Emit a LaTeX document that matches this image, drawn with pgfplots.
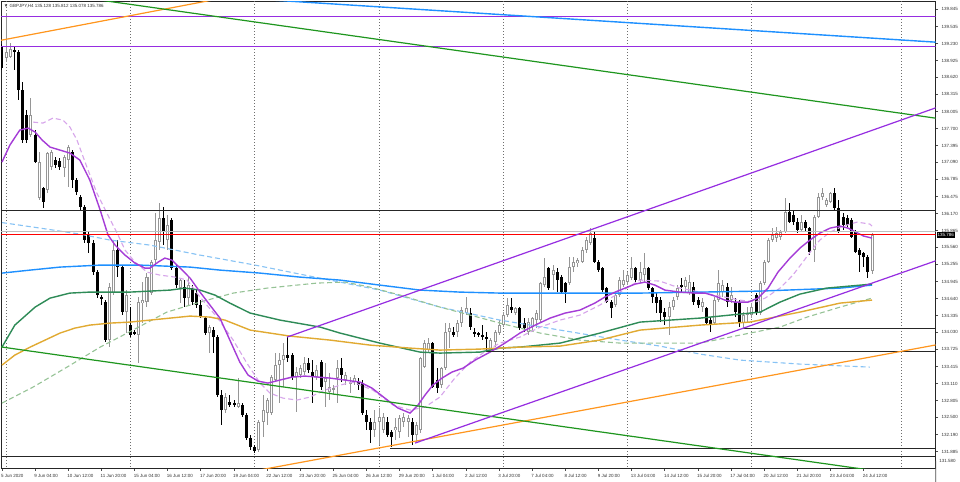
\documentclass[border=0pt]{standalone}
\usepackage{pgfplots}
\pgfplotsset{compat=1.18}
\usepackage{pgfplotstable}
\usepackage{fontspec}
\setmainfont{Liberation Sans}
\definecolor{tlpurple}{RGB}{150,45,225}
\definecolor{mapurple}{RGB}{165,60,215}
\definecolor{mapurplelight}{RGB}{215,165,235}
\definecolor{mablue}{RGB}{30,144,255}
\definecolor{mabluelight}{RGB}{135,195,245}
\definecolor{magreen}{RGB}{46,139,87}
\definecolor{magreenlight}{RGB}{150,195,150}
\definecolor{maorange}{RGB}{225,170,50}
\definecolor{tlorange}{RGB}{255,150,30}
\definecolor{tlgreen}{RGB}{30,150,30}
\definecolor{bullgray}{RGB}{150,150,150}
\definecolor{sepgray}{RGB}{110,110,110}

\pgfplotstableread{
i o h l c
1 138.968 139.778 138.896 139.076
2 138.986 139.238 138.968 139.130
7 137.582 138.248 137.546 137.942
9 136.448 137.276 136.412 137.096
11 136.592 137.276 136.538 137.258
12 137.006 137.312 136.952 137.276
15 136.988 137.222 136.826 137.186
16 137.132 137.402 136.646 137.366
26 133.892 134.918 133.766 134.846
27 134.738 135.692 134.702 135.512
30 134.396 134.792 134.018 134.702
33 133.982 134.666 133.478 134.576
34 134.558 134.936 134.198 134.612
35 134.576 135.098 134.486 135.026
36 134.738 135.332 134.702 135.296
37 135.332 136.178 135.242 135.692
38 135.656 136.358 135.512 136.088
40 135.692 136.142 135.512 135.962
43 134.828 135.008 134.558 134.972
45 134.648 135.026 134.522 134.882
50 134.018 134.162 133.658 134.126
54 132.632 132.938 132.578 132.866
57 132.686 133.208 132.668 132.758
62 131.912 132.452 131.876 132.416
63 132.416 132.902 132.146 132.632
64 132.578 132.848 132.362 132.812
65 132.578 133.262 132.542 133.226
66 133.172 133.658 133.136 133.442
67 133.442 133.658 132.758 133.532
68 133.532 133.838 133.046 133.622
71 133.226 133.406 132.596 133.316
72 133.262 133.442 133.208 133.388
73 133.316 133.586 133.262 133.478
76 133.226 133.442 133.172 133.352
78 133.136 133.478 132.686 133.208
79 132.956 133.298 132.812 133.046
80 132.992 133.082 132.902 133.028
81 133.208 133.532 132.758 133.388
83 133.172 133.316 133.082 133.262
84 133.118 133.226 132.938 133.136
85 133.136 133.262 133.082 133.208
90 132.272 132.632 132.146 132.416
91 132.416 132.668 132.002 132.506
92 132.272 132.578 132.218 132.506
95 132.272 132.488 132.092 132.326
96 132.236 132.542 132.128 132.488
97 132.416 132.578 132.326 132.506
98 132.416 132.542 132.146 132.488
100 132.182 132.416 132.038 132.362
101 132.272 133.586 132.218 133.568
102 133.406 133.892 133.388 133.838
103 133.712 133.928 133.658 133.838
106 133.082 133.406 133.028 133.388
107 133.388 134.198 133.352 134.036
108 134.036 134.198 133.748 134.108
110 134.036 134.252 133.946 134.198
111 134.198 134.486 134.126 134.432
112 134.378 134.666 134.342 134.468
118 133.712 133.928 133.676 133.892
119 133.856 134.072 133.766 134.036
120 134.018 134.252 133.982 134.162
121 134.162 134.396 134.126 134.342
122 134.342 134.648 134.306 134.522
124 134.378 134.486 134.342 134.468
127 134.036 134.288 133.982 134.216
128 134.126 134.306 134.036 134.288
129 134.252 134.432 134.108 134.378
130 134.252 134.936 134.216 134.918
131 134.882 135.368 134.846 135.026
133 135.062 135.242 134.792 135.152
137 134.918 135.386 134.882 135.206
138 135.206 135.386 135.116 135.296
139 135.278 135.368 135.206 135.332
140 135.296 135.566 135.278 135.512
141 135.512 135.746 135.458 135.692
142 135.638 135.908 135.602 135.818
148 134.522 134.738 134.486 134.702
149 134.702 135.026 134.666 134.972
150 134.882 135.152 134.846 134.972
151 134.936 135.116 134.882 135.062
152 135.008 135.386 134.972 135.188
154 134.972 135.296 134.918 135.116
155 135.062 135.458 134.918 135.188
161 134.306 134.576 133.982 134.486
162 134.486 134.666 134.432 134.612
163 134.666 134.882 134.612 134.828
165 134.846 135.026 134.756 134.972
166 134.738 135.062 134.702 134.936
169 134.486 134.648 134.396 134.576
172 134.198 134.666 134.162 134.612
173 134.612 135.152 134.576 134.918
174 134.756 134.972 134.666 134.882
176 134.612 134.846 134.558 134.702
179 134.198 134.396 134.108 134.342
180 134.342 134.486 134.198 134.378
181 134.342 134.558 134.288 134.486
183 134.378 134.954 134.342 134.918
184 134.918 135.332 134.882 135.296
185 135.296 135.728 135.278 135.692
186 135.692 135.908 135.656 135.782
187 135.728 135.926 135.656 135.818
188 135.746 135.872 135.692 135.836
189 135.836 136.448 135.818 136.196
193 135.872 136.142 135.836 136.016
196 135.512 136.142 135.296 136.106
197 136.106 136.538 136.088 136.466
198 136.466 136.628 136.412 136.538
199 136.322 136.448 136.286 136.412
200 136.376 136.556 136.358 136.538
210 135.128 135.812 135.078 135.786
}\bull

\pgfplotstableread{
i o h l c
0 139.166 139.220 138.752 138.788
3 139.112 139.166 138.752 139.076
4 139.076 139.112 138.212 138.392
5 138.392 138.536 137.438 137.492
6 137.942 138.032 137.438 137.492
8 137.582 137.672 137.078 137.096
10 136.628 136.646 136.268 136.376
13 137.132 137.186 136.988 137.042
14 137.114 137.168 136.952 137.006
17 137.276 137.312 136.628 136.772
18 136.772 136.808 136.502 136.556
19 136.466 136.502 136.232 136.286
20 136.286 136.322 135.638 135.692
21 135.782 135.836 135.458 135.638
22 135.638 135.692 135.062 135.116
23 135.116 135.152 134.648 134.702
24 134.666 134.702 134.522 134.630
25 134.576 134.612 133.856 133.892
28 135.512 135.692 135.026 135.206
29 135.206 135.242 134.342 134.396
31 134.162 134.486 133.946 133.982
32 134.036 134.072 133.982 134.000
39 136.088 136.286 135.602 135.836
41 136.052 136.088 135.152 135.188
42 135.188 135.242 134.828 134.882
44 134.846 134.972 134.486 134.648
46 134.828 134.882 134.522 134.576
47 134.738 134.792 134.468 134.522
48 134.522 134.612 134.288 134.306
49 134.288 134.306 133.982 134.018
51 134.072 134.126 133.658 133.946
52 133.946 133.982 132.866 132.902
53 132.902 132.992 132.362 132.632
55 132.776 132.902 132.686 132.722
56 132.758 132.812 132.686 132.722
58 132.722 132.758 132.506 132.542
59 132.542 132.578 132.092 132.128
60 132.128 132.182 131.912 131.966
61 131.966 132.002 131.858 131.894
69 133.622 133.946 133.496 133.568
70 133.622 133.658 133.172 133.226
74 133.478 133.568 133.298 133.352
75 133.316 133.532 132.758 133.226
77 133.496 133.532 132.992 133.046
82 133.388 133.568 133.136 133.262
86 133.136 133.208 132.992 133.082
87 133.118 133.172 132.542 132.578
88 132.542 132.632 132.272 132.416
89 132.416 132.488 132.038 132.272
93 132.416 132.506 132.146 132.182
94 132.236 132.272 131.966 132.146
99 132.416 132.488 132.002 132.182
104 133.838 133.856 133.028 133.046
105 133.172 133.388 132.938 133.028
109 134.036 134.126 133.946 133.982
113 134.378 134.468 134.072 134.126
114 134.036 134.108 133.946 134.018
115 134.018 134.036 133.946 133.982
116 133.982 134.162 133.892 133.946
117 133.946 134.036 133.676 133.928
123 134.486 134.648 134.378 134.432
125 134.468 134.486 134.072 134.108
126 134.198 134.288 134.036 134.108
132 135.188 135.206 134.792 134.828
134 135.116 135.188 134.756 134.972
135 135.026 135.062 134.738 134.756
136 134.918 134.936 134.558 134.756
143 135.728 135.836 135.278 135.296
144 135.296 135.332 135.116 135.152
145 135.188 135.206 134.756 134.792
146 134.828 134.846 134.558 134.576
147 134.576 134.612 134.288 134.468
153 135.188 135.206 134.936 134.972
156 135.188 135.206 134.792 134.828
157 134.828 134.846 134.558 134.666
158 134.666 134.738 134.378 134.558
159 134.612 134.666 134.216 134.378
160 134.396 134.468 134.162 134.306
164 134.882 135.008 134.756 134.846
167 134.846 134.936 134.522 134.576
168 134.612 134.666 134.468 134.522
170 134.468 134.486 134.162 134.198
171 134.252 134.306 134.036 134.162
175 134.846 134.918 134.486 134.576
177 134.576 134.648 134.306 134.396
178 134.576 134.612 134.126 134.198
182 134.702 134.738 134.342 134.378
190 136.196 136.358 135.998 136.016
191 136.142 136.232 135.962 136.016
192 136.016 136.088 135.818 135.872
194 136.016 136.052 135.836 135.908
195 135.908 135.926 135.422 135.476
201 136.538 136.628 136.232 136.268
202 136.268 136.412 135.818 135.836
203 136.106 136.178 135.872 135.962
204 136.088 136.142 135.926 135.962
205 136.052 136.088 135.728 135.746
206 135.836 135.872 135.458 135.476
207 135.512 135.548 135.116 135.422
208 135.458 135.476 135.206 135.386
209 135.386 135.422 135.008 135.116
}\bear

\pgfplotsset{candle/.style={draw=none, mark=none, forget plot,
  error bars/.cd, y dir=both, y explicit, error mark=none}}

\begin{document}
\begin{tikzpicture}[x=1pt,y=1pt]
\path[use as bounding box, fill=white] (0,0) rectangle (480,241);
\begin{axis}[
  at={(0.5pt,6.75pt)}, anchor=south west,
  scale only axis, width=467.35pt, height=233.75pt,
  xmin=-0.24, xmax=225.37, ymin=131.579, ymax=139.994,
  clip mode=individual,
  axis line style={draw=black!85, line width=0.5pt},
  tick align=outside, xtick pos=bottom, ytick pos=right,
  major tick length=1.2pt,
  tick style={draw=black!70, line width=0.4pt},
  tick label style={font=\fontsize{2.25}{2.6}\selectfont, inner sep=0pt, text=black!80},
  xtick={0,8,...,208},
  xticklabels={5 Jun 2020,9 Jun 04:00,10 Jun 12:00,11 Jun 20:00,15 Jun 04:00,16 Jun 12:00,17 Jun 20:00,19 Jun 04:00,22 Jun 12:00,23 Jun 20:00,25 Jun 04:00,26 Jun 12:00,29 Jun 20:00,1 Jul 04:00,2 Jul 12:00,3 Jul 20:00,7 Jul 04:00,8 Jul 12:00,9 Jul 20:00,13 Jul 04:00,14 Jul 12:00,15 Jul 20:00,17 Jul 04:00,20 Jul 12:00,21 Jul 20:00,23 Jul 04:00,24 Jul 12:00},
  xticklabel style={anchor=north west, xshift=-0.6pt, yshift=-1.6pt},
  ytick={131.885,132.190,132.500,132.805,133.110,133.415,133.725,134.030,134.335,134.640,134.945,135.255,135.560,135.865,136.170,136.475,136.785,137.090,137.395,137.700,138.005,138.315,138.620,138.925,139.230,139.535,139.845},
  yticklabels={131.885,132.190,132.500,132.805,133.110,133.415,133.725,134.030,134.335,134.640,134.945,135.255,135.560,135.865,136.170,136.475,136.785,137.090,137.395,137.700,138.005,138.315,138.620,138.925,139.230,139.535,139.845},
  yticklabel style={anchor=west, xshift=1.6pt},
]
% ---- weekly separators
\pgfplotsinvokeforeach{1,31,61,91,121,151,181,217}{
  \addplot[sepgray, line width=0.4pt, dash pattern=on 0.5pt off 1pt] coordinates {(#1,131.5) (#1,140.1)};
}
% ---- bearish candles
\addplot[candle, error bar style={draw=black, line width=0.5pt}]
  table[x=i, y expr={(\thisrow{h}+\thisrow{l})/2}, y error expr={(\thisrow{h}-\thisrow{l})/2}] {\bear};
\addplot[candle, error bar style={draw=black, line width=1.5pt}]
  table[x=i, y expr={(\thisrow{o}+\thisrow{c})/2}, y error expr={max(abs(\thisrow{o}-\thisrow{c})/2,0.009)}] {\bear};
% ---- bullish candles
\addplot[candle, error bar style={draw=bullgray, line width=0.5pt}]
  table[x=i, y expr={(\thisrow{h}+\thisrow{l})/2}, y error expr={(\thisrow{h}-\thisrow{l})/2}] {\bull};
\addplot[candle, error bar style={draw=bullgray, line width=1.5pt}]
  table[x=i, y expr={(\thisrow{o}+\thisrow{c})/2}, y error expr={max(abs(\thisrow{o}-\thisrow{c})/2,0.009)}] {\bull};
\addplot[candle, error bar style={draw=white, line width=0.5pt}]
  table[x=i, y expr={(\thisrow{o}+\thisrow{c})/2}, y error expr={max(abs(\thisrow{o}-\thisrow{c})/2-0.018,0)}] {\bull};

% ---- moving averages
\addplot[mabluelight, line width=0.55pt, dash pattern=on 2.5pt off 1.5pt] coordinates {
(0,136.007)(9.2,135.908)(18.8,135.800)(26.1,135.692)(35.7,135.602)(47.8,135.422)(61.1,135.242)(75.5,135.026)(91.2,134.792)(105.7,134.486)(120.2,134.252)(134.7,134.072)(149.2,133.892)(158.8,133.784)(168.5,133.640)(178.1,133.532)(192.6,133.460)(209.5,133.406)};
\addplot[magreenlight, line width=0.55pt, dash pattern=on 2.5pt off 1.5pt] coordinates {
(0,132.758)(7.5,133.046)(15.7,133.406)(23.7,133.766)(31.6,134.072)(39.8,134.396)(47.8,134.576)(55.8,134.738)(64,134.828)(76,134.918)(82.8,134.936)(88.8,134.846)(96.1,134.702)(105.7,134.486)(113,134.342)(120.2,134.198)(129.9,134.018)(139.5,133.892)(149.2,133.838)(168.5,133.838)(180.5,134.018)(187.8,134.126)(194.3,134.306)(202.3,134.486)(210,134.648)};
\addplot[mapurplelight, line width=0.55pt, dash pattern=on 2.5pt off 1.5pt] coordinates {
(7.5,137.816)(9.9,137.798)(12.3,137.888)(14.7,137.852)(16.4,137.726)(18.1,137.492)(20.5,137.006)(22.9,136.538)(25.3,136.178)(27.8,135.818)(29.7,135.512)(32.1,135.296)(35,135.116)(38.1,135.062)(41.8,135.026)(44.7,134.972)(47.8,134.666)(51.9,134.306)(55.8,133.892)(59.1,133.478)(62.3,133.118)(64.7,132.938)(67.8,132.848)(71.2,132.812)(74.3,132.866)(78,132.992)(81.6,133.082)(84.7,133.136)(89.5,132.992)(94.4,132.722)(98.5,132.632)(102.1,132.686)(105.7,132.866)(109.3,133.208)(113,133.496)(117.1,133.712)(120.2,133.838)(125,133.946)(129.9,134.126)(134.7,134.252)(139.5,134.342)(144.3,134.522)(149.2,134.756)(154,134.972)(158.8,134.954)(163.6,134.828)(168.5,134.756)(173.3,134.684)(178.1,134.612)(181.8,134.576)(184.2,134.648)(187.8,134.828)(190.9,135.062)(193.3,135.296)(195.8,135.548)(197.4,135.692)(199.9,135.836)(203,135.944)(206.4,136.016)(209.5,135.980)(210,135.944)};
\addplot[mablue, line width=0.7pt] coordinates {
(0,135.098)(6.8,135.152)(14,135.206)(23.7,135.242)(33.3,135.242)(45.4,135.206)(52.6,135.152)(62.3,135.098)(71.9,135.026)(81.6,134.972)(91.2,134.882)(100.9,134.792)(110.5,134.756)(120.2,134.738)(154,134.738)(183,134.774)(202.3,134.828)(210,134.882)};
\addplot[magreen, line width=0.7pt] coordinates {
(0,133.766)(3.1,134.162)(8,134.486)(11.6,134.648)(16.4,134.738)(21.2,134.756)(30.9,134.756)(40.6,134.792)(44.2,134.828)(47.8,134.792)(51.4,134.702)(55,134.558)(59.9,134.378)(67.1,134.252)(76.8,134.126)(81.6,134.018)(91.2,133.838)(100.9,133.676)(105.7,133.658)(115.4,133.676)(120.2,133.748)(125,133.766)(134.7,133.838)(144.3,134.018)(154,134.216)(168.5,134.288)(178.1,134.360)(183,134.396)(187.8,134.576)(192.6,134.720)(199.1,134.828)(210,134.900)};
\addplot[maorange, line width=0.7pt] coordinates {
(0,133.442)(3.1,133.622)(6.8,133.766)(10.4,133.892)(14,134.018)(17.6,134.108)(21.2,134.162)(26.1,134.198)(30.9,134.216)(35.7,134.252)(40.6,134.288)(45.4,134.324)(50.2,134.306)(53.8,134.252)(59.9,134.072)(69.5,133.964)(79.2,133.892)(88.8,133.802)(98.5,133.748)(105.7,133.712)(115.4,133.730)(125,133.766)(134.7,133.784)(144.3,133.892)(154,134.072)(168.5,134.162)(180.5,134.216)(192.6,134.396)(202.3,134.558)(210,134.612)};
\addplot[mapurple, line width=0.7pt] coordinates {
(0,137.096)(1.9,137.402)(4.3,137.672)(6.3,137.708)(8,137.636)(9.7,137.492)(11.6,137.366)(14,137.312)(16.4,137.258)(18.8,137.132)(21.2,136.772)(23.7,136.232)(25.6,135.782)(27.3,135.602)(29.7,135.422)(32.1,135.278)(34.5,135.188)(35.7,135.188)(37.7,135.296)(39.3,135.368)(41,135.332)(43,135.188)(45.4,135.008)(47.8,134.756)(50.2,134.522)(52.6,134.288)(55,133.892)(57.4,133.496)(59.4,133.262)(61.8,133.154)(64.2,133.118)(67.1,133.172)(70,133.226)(73.1,133.244)(76.3,133.226)(79.2,133.208)(82.8,133.172)(86.4,133.136)(89.3,133.028)(92.4,132.848)(95.6,132.668)(98.5,132.578)(100.4,132.722)(102.1,132.902)(104,133.082)(106.2,133.208)(108.6,133.316)(111.3,133.388)(114.2,133.532)(117.8,133.676)(121.4,133.838)(125,134.018)(128.7,134.162)(132.3,134.288)(135.9,134.378)(139.5,134.432)(143.1,134.558)(145.5,134.666)(148,134.756)(150.4,134.828)(152.8,134.900)(155.2,134.936)(157.6,134.882)(160,134.792)(163.6,134.756)(167.3,134.738)(169.7,134.738)(172.1,134.684)(174.5,134.612)(176.9,134.576)(180.1,134.576)(182.5,134.648)(184.9,134.828)(187.3,135.116)(190.2,135.368)(192.6,135.548)(195,135.692)(197.4,135.818)(199.9,135.908)(202.3,135.944)(204.2,135.908)(206.1,135.836)(208,135.764)(210,135.728)};

% ---- horizontal levels
\addplot[black!85, line width=0.55pt] coordinates {(-1,136.232) (226,136.232)};
\addplot[black!85, line width=0.55pt] coordinates {(178.9,134.108) (226,134.108)};
\addplot[black!85, line width=0.55pt] coordinates {(117.1,133.694) (226,133.694)};
\addplot[black!85, line width=0.55pt] coordinates {(93.7,131.942) (226,131.942)};
\addplot[black!85, line width=0.55pt] coordinates {(-1,131.791) (226,131.791)};
\addplot[tlpurple, line width=0.55pt] coordinates {(-1,139.724) (226,139.724)};
\addplot[tlpurple, line width=0.55pt] coordinates {(-1,139.184) (226,139.184)};
\addplot[black!25, line width=0.4pt] coordinates {(-1,135.840) (226,135.840)};
\addplot[red, line width=0.55pt] coordinates {(-1,135.786) (226,135.786)};
% ---- trend lines
\addplot[tlorange, line width=0.6pt] coordinates {(-1,139.278) (60,140.144)};
\addplot[tlorange, line width=0.6pt] coordinates {(62,131.551) (226,133.813)};
\addplot[tlgreen, line width=0.6pt] coordinates {(20,140.051) (226,137.880)};
\addplot[tlgreen, line width=0.6pt] coordinates {(-1,133.777) (215,131.494)};
\addplot[mablue, line width=0.7pt] coordinates {(60,140.037) (226,139.252)};
\addplot[tlpurple, line width=0.6pt] coordinates {(68.8,133.946) (226,138.089)};
\addplot[tlpurple, line width=0.6pt] coordinates {(99.7,132.038) (226,135.335)};

% ---- texts
\node[anchor=west, inner sep=0pt, font=\fontsize{2.25}{2.6}\selectfont, text=black!80]
  at ([xshift=1.2pt,yshift=-2.4pt]rel axis cs:0,1) {▼ GBPJPY,H4 135.128 135.812 135.078 135.786};
\draw[black!70, line width=0.4pt] ([yshift=4pt]rel axis cs:1,0) -- ++(1.2pt,0);
\node[anchor=west, inner sep=0pt, font=\fontsize{2.25}{2.6}\selectfont, text=black!80]
  at ([xshift=1.6pt,yshift=4pt]rel axis cs:1,0) {131.580};
\node[anchor=west, fill=black, text=white, inner xsep=0.5pt, inner ysep=0.6pt, font=\fontsize{2.25}{2.6}\selectfont]
  at ([xshift=0.3pt]axis cs:225.37,135.786) {135.786};
\end{axis}
\end{tikzpicture}
\end{document}
